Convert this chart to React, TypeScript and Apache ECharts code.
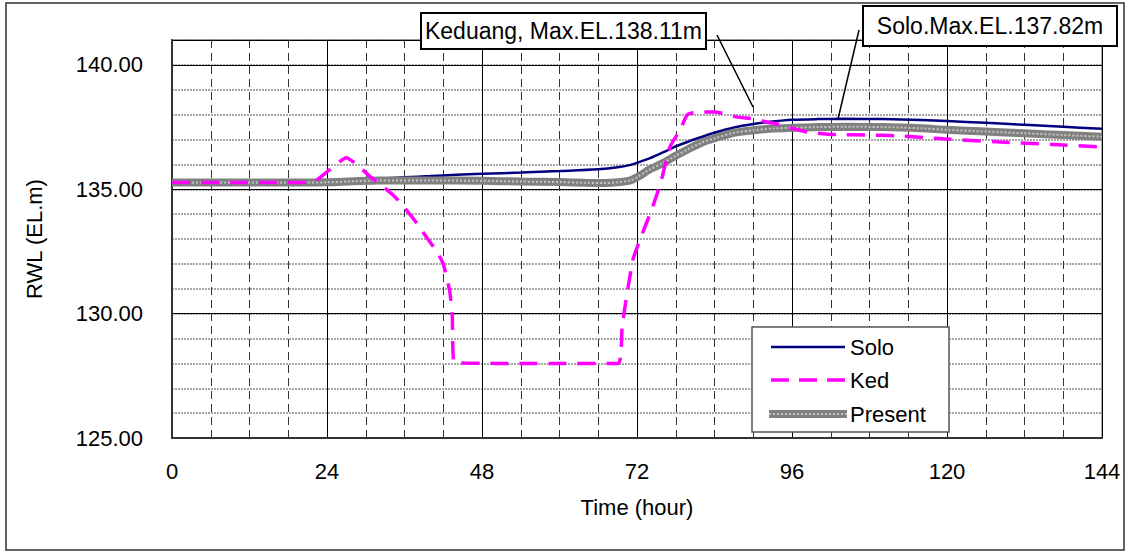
import React, { useEffect, useRef } from 'react';
import * as echarts from 'echarts';

const xTickLabels = [0, 24, 48, 72, 96, 120, 144];
const yTickLabels = [125, 130, 135, 140];

const soloHours = [0, 10, 20, 24, 28, 32, 36, 40, 44, 48, 54, 60, 66, 69, 71, 72, 74, 76, 78, 80, 82, 84, 87, 90, 93, 96, 100, 104, 110, 116, 120, 126, 132, 138, 144];
const soloLevels = [135.27, 135.27, 135.27, 135.3, 135.36, 135.42, 135.48, 135.53, 135.58, 135.62, 135.67, 135.73, 135.8, 135.88, 135.98, 136.06, 136.25, 136.48, 136.72, 136.92, 137.1, 137.27, 137.48, 137.62, 137.72, 137.79, 137.82, 137.83, 137.82, 137.78, 137.74, 137.67, 137.59, 137.51, 137.43];

const kedHours = [0, 10, 20, 22, 24, 27, 28.6, 30.5, 32.7, 34.5, 36.5, 38, 39.6, 41, 42, 43, 43.4, 43.7, 50, 60, 69.1, 69.7, 70.4, 71.4, 72.5, 74.3, 75.6, 77.1, 78.7, 79.8, 81.4, 84, 85.6, 87.6, 90, 92.1, 94.1, 96, 98.3, 102.4, 108, 112.3, 119.4, 128.2, 136.4, 144];
const kedLevels = [135.27, 135.27, 135.27, 135.3, 135.7, 136.27, 136.0, 135.55, 135.1, 134.7, 134.1, 133.6, 133.0, 132.5, 132.0, 130.9, 129.9, 128.03, 128.0, 128.0, 128.0, 129.5, 130.7, 132.2, 133.0, 134.2, 135.2, 136.7, 137.4, 138.0, 138.1, 138.11, 138.03, 137.9, 137.83, 137.7, 137.6, 137.45, 137.3, 137.2, 137.18, 137.15, 137.03, 136.9, 136.8, 136.7];

const presentHours = [0, 10, 20, 24, 28, 32, 40, 48, 54, 60, 64, 67, 69, 71, 72, 74, 76, 78, 80, 82, 84, 87, 90, 93, 96, 100, 104, 110, 116, 120, 126, 132, 138, 144];
const presentLevels = [135.27, 135.27, 135.27, 135.28, 135.32, 135.35, 135.35, 135.34, 135.31, 135.29, 135.26, 135.25, 135.28, 135.36, 135.48, 135.8, 136.05, 136.35, 136.62, 136.87, 137.05, 137.27, 137.37, 137.44, 137.47, 137.5, 137.51, 137.5, 137.45, 137.39, 137.32, 137.25, 137.18, 137.11];

const seriesNames = ['Solo', 'Ked', 'Present'];
const kedNote = 'Keduang, Max.EL.138.11m';
const soloNote = 'Solo.Max.EL.137.82m';

const FONT = "'Liberation Sans', Arial, sans-serif";

export default function App() {
  const ref = useRef<HTMLDivElement>(null);
  useEffect(() => {
    if (!ref.current) return;
    const chart = echarts.init(ref.current, null, { renderer: 'svg' });
    const pairs = (h: number[], v: number[]) => h.map((x, i) => [x, v[i]]);

    const lx1 = 771, lx2 = 845, ltx = 850;
    const rowY = [347, 380, 414];
    const legendGraphic: any[] = [
      { type: 'rect', shape: { x: 752, y: 327, width: 197, height: 105 }, style: { fill: '#fff', stroke: '#555', lineWidth: 1.5 }, z: 100 },
      { type: 'line', shape: { x1: lx1, y1: rowY[0], x2: lx2, y2: rowY[0] }, style: { stroke: '#000080', lineWidth: 2.5 }, z: 101 },
      { type: 'line', shape: { x1: lx1, y1: rowY[1], x2: lx2, y2: rowY[1] }, style: { stroke: '#ff00ff', lineWidth: 3.5, lineDash: [18, 10] }, z: 101 },
      { type: 'line', shape: { x1: lx1 - 2, y1: rowY[2], x2: lx2 + 2, y2: rowY[2] }, style: { stroke: '#808080', lineWidth: 8 }, z: 101 },
      { type: 'line', shape: { x1: lx1 - 2, y1: rowY[2], x2: lx2 + 2, y2: rowY[2] }, style: { stroke: '#c4c4c4', lineWidth: 2, lineDash: [2, 2] }, z: 102 },
    ];
    seriesNames.forEach((n, i) => {
      legendGraphic.push({ type: 'text', x: ltx, y: rowY[i], style: { text: n, fontSize: 22, fontFamily: FONT, fill: '#000', align: 'left', verticalAlign: 'middle' }, z: 102 });
    });

    chart.setOption({
      animation: false,
      backgroundColor: '#ffffff',
      textStyle: { fontFamily: FONT },
      grid: { left: 172, right: 27, top: 40, bottom: 116, show: true, borderColor: '#8c8c8c', borderWidth: 1.5 },
      xAxis: [
        {
          type: 'value', min: 0, max: 144, interval: 6, position: 'bottom',
          axisLine: { show: false }, axisTick: { show: false }, axisLabel: { show: false },
          splitLine: { show: true, lineStyle: { color: '#333', type: [8, 5], width: 1 } },
        },
        {
          type: 'value', min: 0, max: 144, interval: 24, position: 'bottom',
          axisLine: { show: true, lineStyle: { color: '#333', width: 2 } },
          axisTick: { show: false },
          axisLabel: {
            margin: 22, fontSize: 22, color: '#000', fontFamily: FONT,
            formatter: (v: number) => (xTickLabels.includes(v) ? String(v) : ''),
          },
          splitLine: { show: true, lineStyle: { color: '#000', width: 1, type: 'solid' } },
          name: 'Time (hour)', nameLocation: 'middle', nameGap: 58,
          nameTextStyle: { fontSize: 22, color: '#000', fontFamily: FONT },
        },
      ],
      yAxis: [
        {
          type: 'value', min: 125, max: 141, interval: 1, position: 'left',
          axisLine: { show: false }, axisTick: { show: false }, axisLabel: { show: false },
          splitLine: { show: true, lineStyle: { color: '#8a8a8a', type: [2, 1], width: 1.5 } },
        },
        {
          type: 'value', min: 125, max: 141, interval: 5, position: 'left',
          axisLine: { show: true, lineStyle: { color: '#333', width: 2 } },
          axisTick: { show: false },
          axisLabel: {
            margin: 29, fontSize: 22, color: '#000', fontFamily: FONT,
            formatter: (v: number) => (yTickLabels.includes(v) ? v.toFixed(2) : ''),
          },
          splitLine: { show: true, lineStyle: { color: '#000', width: 1.2, type: 'solid' } },
          name: 'RWL (EL.m)', nameLocation: 'middle', nameGap: 127, nameRotate: 90,
          nameTextStyle: { fontSize: 22, color: '#000', fontFamily: FONT },
        },
      ],
      series: [
        {
          name: 'Solo', type: 'line', xAxisIndex: 1, yAxisIndex: 1, symbol: 'none', smooth: 0.3,
          data: pairs(soloHours, soloLevels),
          lineStyle: { color: '#000080', width: 2.5 }, itemStyle: { color: '#000080' }, z: 3,
        },
        {
          name: 'Present', type: 'line', xAxisIndex: 1, yAxisIndex: 1, symbol: 'none', smooth: 0.3,
          data: pairs(presentHours, presentLevels),
          lineStyle: { color: '#808080', width: 8 }, itemStyle: { color: '#808080' }, z: 4,
        },
        {
          name: 'Present', type: 'line', xAxisIndex: 1, yAxisIndex: 1, symbol: 'none', smooth: 0.3,
          data: pairs(presentHours, presentLevels),
          lineStyle: { color: '#c4c4c4', width: 2, type: [2, 2] }, itemStyle: { color: '#c4c4c4' }, z: 5,
        },
        {
          name: 'Ked', type: 'line', xAxisIndex: 1, yAxisIndex: 1, symbol: 'none', smooth: 0.15,
          data: pairs(kedHours, kedLevels),
          lineStyle: { color: '#ff00ff', width: 3.5, type: [18, 11] }, itemStyle: { color: '#ff00ff' }, z: 6,
        },
      ],
      graphic: [
        { type: 'rect', shape: { x: 6, y: 3, width: 1118, height: 547 }, style: { fill: 'none', stroke: '#333', lineWidth: 1.5 }, z: 100 },
        { type: 'line', shape: { x1: 717, y1: 35, x2: 753, y2: 107 }, style: { stroke: '#000', lineWidth: 1.5 }, z: 100 },
        { type: 'line', shape: { x1: 859, y1: 30, x2: 838, y2: 119 }, style: { stroke: '#000', lineWidth: 1.5 }, z: 100 },
        { type: 'rect', shape: { x: 421, y: 13, width: 285, height: 36 }, style: { fill: '#fff', stroke: '#000', lineWidth: 2 }, z: 101 },
        { type: 'text', x: 563.5, y: 31, style: { text: kedNote, fontSize: 23, fontFamily: FONT, fill: '#000', align: 'center', verticalAlign: 'middle' }, z: 102 },
        { type: 'rect', shape: { x: 863, y: 6, width: 254, height: 40 }, style: { fill: '#fff', stroke: '#000', lineWidth: 2 }, z: 101 },
        { type: 'text', x: 990, y: 26, style: { text: soloNote, fontSize: 23, fontFamily: FONT, fill: '#000', align: 'center', verticalAlign: 'middle' }, z: 102 },
        ...legendGraphic,
      ],
    });
    return () => chart.dispose();
  }, []);
  return <div ref={ref} style={{ position: 'fixed', left: 0, top: 0, width: 1129, height: 554, background: '#fff' }} />;
}
